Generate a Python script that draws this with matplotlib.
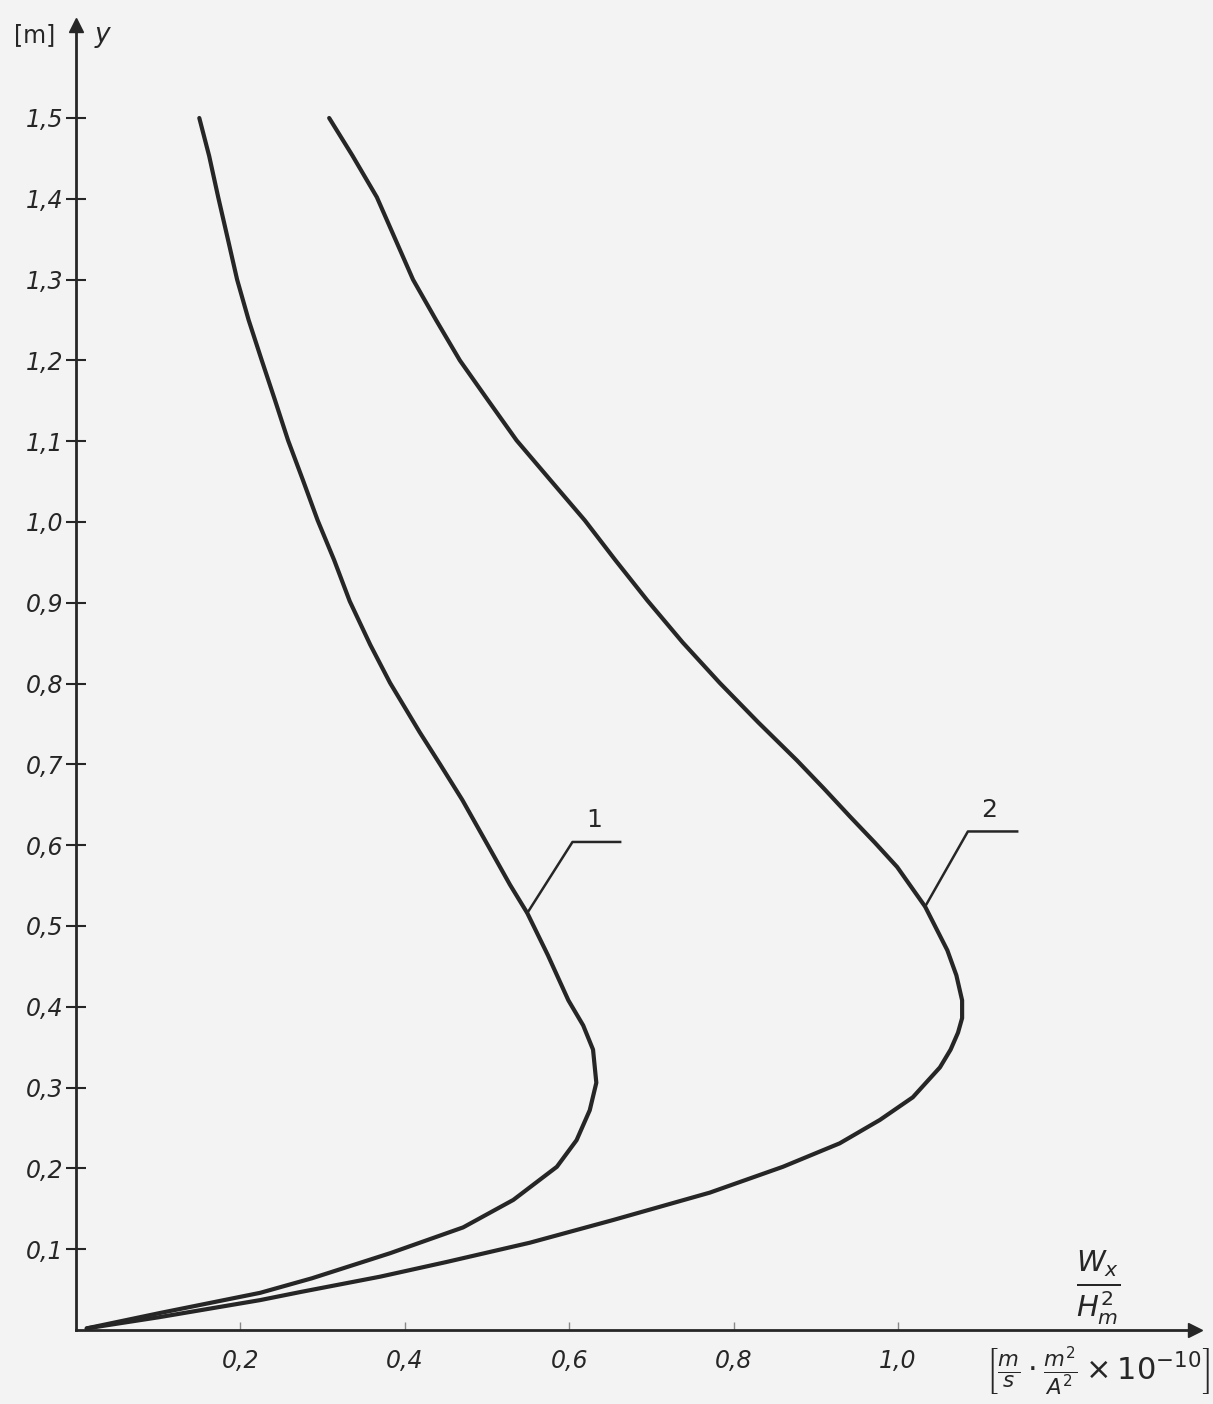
import matplotlib
matplotlib.use("Agg")
import matplotlib.pyplot as plt

# curve 1 (inner): x = Wx/Hm^2, y in metres
x1 = [0.150, 0.162, 0.173, 0.185, 0.196, 0.210, 0.226, 0.242, 0.258, 0.276,
      0.294, 0.314, 0.333, 0.358, 0.382, 0.418, 0.443, 0.470, 0.501, 0.528,
      0.549, 0.574, 0.599, 0.617, 0.629, 0.633, 0.625, 0.609, 0.585, 0.532,
      0.471, 0.382, 0.287, 0.224, 0.102, 0.013]
y1 = [1.500, 1.453, 1.402, 1.349, 1.300, 1.250, 1.200, 1.151, 1.101, 1.052,
      1.002, 0.953, 0.902, 0.848, 0.801, 0.740, 0.700, 0.656, 0.600, 0.551,
      0.516, 0.464, 0.408, 0.377, 0.347, 0.306, 0.272, 0.235, 0.202, 0.161,
      0.127, 0.095, 0.064, 0.046, 0.021, 0.002]

# curve 2 (outer)
x2 = [0.308, 0.336, 0.366, 0.388, 0.410, 0.438, 0.467, 0.501, 0.536, 0.577,
      0.619, 0.656, 0.695, 0.738, 0.783, 0.830, 0.877, 0.910, 0.942, 0.972,
      0.999, 1.033, 1.060, 1.071, 1.078, 1.078, 1.073, 1.064, 1.051, 1.018,
      0.978, 0.929, 0.860, 0.771, 0.653, 0.552, 0.450, 0.370, 0.273, 0.224,
      0.102, 0.013]
y2 = [1.500, 1.454, 1.402, 1.351, 1.300, 1.250, 1.200, 1.151, 1.101, 1.052,
      1.002, 0.953, 0.903, 0.851, 0.801, 0.752, 0.705, 0.670, 0.635, 0.603,
      0.573, 0.524, 0.470, 0.439, 0.408, 0.386, 0.368, 0.347, 0.325, 0.288,
      0.260, 0.231, 0.202, 0.170, 0.136, 0.108, 0.084, 0.066, 0.047, 0.037,
      0.016, 0.002]

yticks = [0.1, 0.2, 0.3, 0.4, 0.5, 0.6, 0.7, 0.8, 0.9, 1.0, 1.1, 1.2, 1.3, 1.4, 1.5]
xticks = [0.2, 0.4, 0.6, 0.8, 1.0]

ink = "#262626"
W, H = 1213, 1404
fig = plt.figure(figsize=(W / 100, H / 100), dpi=100, facecolor="#f3f3f3")
ax = fig.add_axes([76 / W, 74 / H, (1195 - 76) / W, (1330 - 25) / H])
ax.set_facecolor("#f3f3f3")
ax.set_xlim(0, (1195 - 76) / 822)
ax.set_ylim(0, (1330 - 25) / 808)

ax.plot(x1, y1, color=ink, lw=3, solid_capstyle="round", solid_joinstyle="round")
ax.plot(x2, y2, color=ink, lw=3, solid_capstyle="round", solid_joinstyle="round")

for s in ["top", "right"]:
    ax.spines[s].set_visible(False)
for s in ["left", "bottom"]:
    ax.spines[s].set_linewidth(2)
    ax.spines[s].set_color(ink)

ax.set_yticks(yticks)
ax.set_yticklabels([f"{v:.1f}".replace(".", ",") for v in yticks],
                   fontsize=17, color=ink, fontstyle="italic")
ax.set_xticks(xticks)
ax.set_xticklabels([f"{v:.1f}".replace(".", ",") for v in xticks],
                   fontsize=17, color=ink, fontstyle="italic")
ax.tick_params(axis="y", direction="inout", length=14, width=1.5, color=ink, pad=2)
ax.tick_params(axis="x", direction="in", length=6, width=1, color="#888888", pad=14)

# arrow heads on the axes
ax.plot(1, 0, ">", transform=ax.transAxes, color=ink, ms=10, clip_on=False)
ax.plot(0, 1, "^", transform=ax.transAxes, color=ink, ms=10, clip_on=False)

fig.text(35 / W, 1 - 35 / H, "[m]", fontsize=17, color=ink, ha="center", va="center")
fig.text(102 / W, 1 - 35 / H, "y", fontsize=19, color=ink, ha="center", va="center",
         fontstyle="italic")

fig.text(1098 / W, 1 - 1288 / H, r"$\frac{W_x}{H_m^2}$", fontsize=30, color=ink,
         ha="center", va="center")
fig.text(1098 / W, 1 - 1372 / H,
         r"$\left[\frac{m}{s}\cdot\frac{m^2}{A^2}\times10^{-10}\right]$",
         fontsize=22, color=ink, ha="center", va="center")

# leader lines with curve numbers
for xs, ys, i, lab, dx, dy, dl in [(x1, y1, 20, "1", 0.055, 0.088, 0.058),
                                   (x2, y2, 21, "2", 0.052, 0.093, 0.060)]:
    tx, ty = xs[i], ys[i]
    kx, ky = tx + dx, ty + dy
    ax.plot([tx, kx, kx + dl], [ty, ky, ky], color=ink, lw=1.8)
    ax.text(kx + 0.026, ky + 0.012, lab, fontsize=18, color=ink,
            ha="center", va="bottom")

fig.savefig("out.png", dpi=100, facecolor=fig.get_facecolor())
